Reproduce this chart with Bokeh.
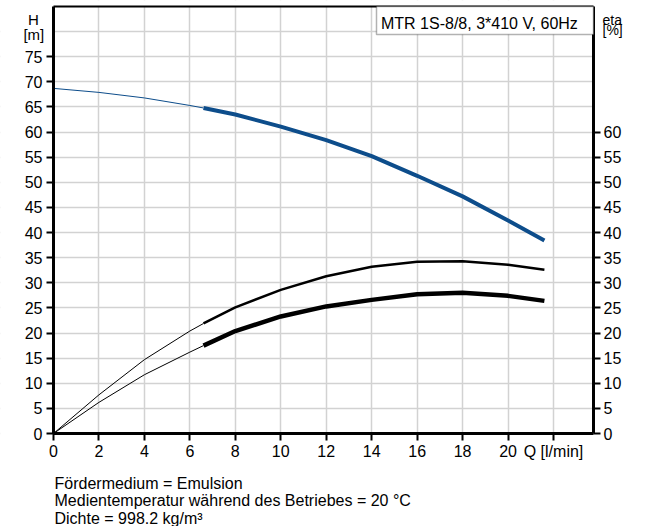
from bokeh.plotting import figure
from bokeh.models import Range1d, LinearAxis, FixedTicker, Label, BoxAnnotation
from bokeh.embed import file_html
from bokeh.resources import INLINE

# ---- data ----
q = [0, 2, 4, 6, 6.6, 8, 10, 12, 14, 16, 18, 20, 21.6]
head = [68.7, 67.9, 66.8, 65.3, 64.8, 63.5, 61.1, 58.4, 55.2, 51.3, 47.2, 42.4, 38.4]
eta_upper = [0, 7.7, 14.7, 20.4, 21.9, 25.1, 28.6, 31.3, 33.2, 34.2, 34.3, 33.6, 32.6]
eta_lower = [0, 6.2, 11.7, 16.2, 17.5, 20.4, 23.3, 25.3, 26.6, 27.7, 28.0, 27.4, 26.4]
duty = 4  # index where the operating range (thick part) starts

x_ticks = [0, 2, 4, 6, 8, 10, 12, 14, 16, 18, 20, 22]
x_tick_labels = {22: "Q [l/min]"}
h_ticks = [0, 5, 10, 15, 20, 25, 30, 35, 40, 45, 50, 55, 60, 65, 70, 75]
eta_ticks = [0, 5, 10, 15, 20, 25, 30, 35, 40, 45, 50, 55, 60]
grid_y = [0, 5, 10, 15, 20, 25, 30, 35, 40, 45, 50, 55, 60, 65, 70, 75, 80]
title_text = "MTR 1S-8/8, 3*410 V, 60Hz"
notes = ["Fördermedium = Emulsion",
         "Medientemperatur während des Betriebes = 20 °C",
         "Dichte = 998.2 kg/m³"]

FONT = "Liberation Sans"
BLUE = "#0d4d8b"
YMAX = 85.0
XMAX = 23.76

# layout in pixels: plot area from x=53..593, y=6..433 on a 646x526 canvas
W, H = 646, 526
L, R, T, B = 53, 593, 6, 433
PX = (R - L) / XMAX
PY = (B - T) / YMAX
x0, x1 = -L / PX, (W - L) / PX
y0, y1 = -(H - B) / PY, B / PY

p = figure(width=W, height=H, x_range=Range1d(x0, x1), y_range=Range1d(y0, y1),
           output_backend="svg", toolbar_location=None,
           min_border_left=0, min_border_right=0, min_border_top=0, min_border_bottom=0)
p.extra_y_ranges = {"eta": Range1d(y0, y1)}
p.background_fill_color = "white"
p.border_fill_color = "white"
p.outline_line_color = None


def style_axis(ax, standoff):
    ax.axis_line_width = 3
    ax.axis_line_color = "black"
    ax.major_tick_line_width = 2
    ax.major_tick_line_color = "black"
    ax.major_tick_out = 7
    ax.major_tick_in = 0
    ax.minor_tick_line_color = None
    ax.major_label_text_font = FONT
    ax.major_label_text_font_size = "16px"
    ax.major_label_text_color = "black"
    ax.major_label_standoff = standoff


xa = p.xaxis[0]
xa.ticker = FixedTicker(ticks=x_ticks)
xa.major_label_overrides = x_tick_labels
xa.fixed_location = 0
xa.bounds = (0, XMAX)
style_axis(xa, 2)

ya = p.yaxis[0]
ya.ticker = FixedTicker(ticks=h_ticks)
ya.fixed_location = 0
ya.bounds = (0, YMAX)
style_axis(ya, 4)

ra = LinearAxis(y_range_name="eta", ticker=FixedTicker(ticks=eta_ticks),
                fixed_location=XMAX, bounds=(0, YMAX))
style_axis(ra, 3)
p.add_layout(ra, "right")

ta = LinearAxis(ticker=FixedTicker(ticks=[]), fixed_location=YMAX, bounds=(0, XMAX))
ta.axis_line_width = 2
ta.axis_line_color = "black"
ta.minor_tick_line_color = None
ta.major_tick_line_color = None
p.add_layout(ta, "above")

p.xgrid.ticker = FixedTicker(ticks=x_ticks)
p.ygrid.ticker = FixedTicker(ticks=grid_y)
for g in (p.xgrid, p.ygrid):
    g.grid_line_color = "#d2d2d2"
    g.grid_line_width = 1.5

# white masks so the grid stays inside the plot area
for kw in (dict(right=0), dict(left=XMAX), dict(bottom=YMAX), dict(top=0)):
    p.add_layout(BoxAnnotation(fill_color="white", fill_alpha=1.0, line_color=None,
                               level="underlay", **kw))

# head curve
p.line(q[:duty + 1], head[:duty + 1], line_color=BLUE, line_width=1)
p.line(q[duty:], head[duty:], line_color=BLUE, line_width=4)
# efficiency curves
p.line(q[:duty + 1], eta_upper[:duty + 1], line_color="black", line_width=1, y_range_name="eta")
p.line(q[duty:], eta_upper[duty:], line_color="black", line_width=2.5, y_range_name="eta")
p.line(q[:duty + 1], eta_lower[:duty + 1], line_color="black", line_width=1, y_range_name="eta")
p.line(q[duty:], eta_lower[duty:], line_color="black", line_width=4.5, y_range_name="eta")


def px_x(sx):
    return (sx - L) / PX


def px_y(sy):
    return (B - sy) / PY


def add_text(txt, sx, sy, size, align="left"):
    p.add_layout(Label(x=px_x(sx), y=px_y(sy), text=txt, text_font=FONT,
                       text_font_size=size, text_align=align,
                       text_baseline="alphabetic", text_color="black"))


# axis titles
add_text("H", 33, 19.3, "15px", "center")
add_text("[m]", 33.3, 33.5, "15px", "center")
add_text("eta", 602, 19, "14px")
add_text("[%]", 602, 29.5, "14px")

# title box
p.add_layout(BoxAnnotation(left=px_x(376), right=XMAX, top=YMAX, bottom=px_y(34),
                           fill_color="white", fill_alpha=1.0, line_color="black",
                           line_width=1.5))
add_text(title_text, 380.5, 23, "16px")

# notes under the chart
for t, sy in zip(notes, [482.5, 500.3, 517.8]):
    add_text(t, 54, sy, "16px")

open("out.html", "w").write(file_html(p, INLINE))
